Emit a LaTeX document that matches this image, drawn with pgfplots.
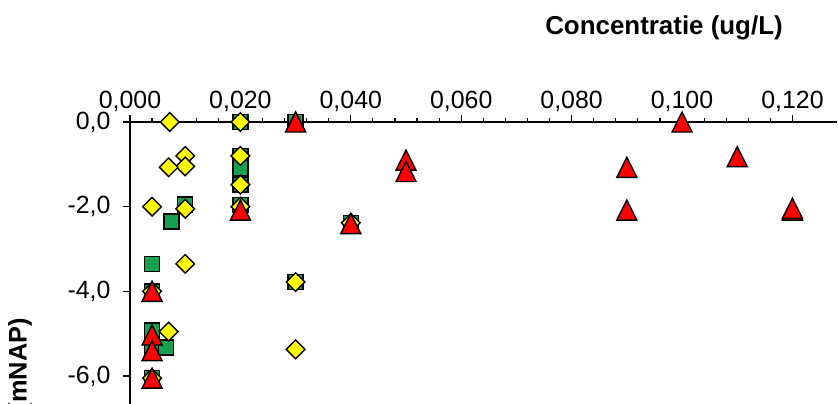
\documentclass[border=0pt]{standalone}
\usepackage{fontspec}
\setmainfont{Liberation Sans}
\usepackage{pgfplots}
\pgfplotsset{compat=1.18}
\definecolor{mgreen}{RGB}{22,160,80}
\definecolor{myellow}{RGB}{255,255,0}
\definecolor{mred}{RGB}{255,0,0}
\pgfdeclareplotmark{etri}{%
  \pgfpathmoveto{\pgfqpoint{0pt}{1\pgfplotmarksize}}%
  \pgfpathlineto{\pgfqpoint{-1\pgfplotmarksize}{-1\pgfplotmarksize}}%
  \pgfpathlineto{\pgfqpoint{1\pgfplotmarksize}{-1\pgfplotmarksize}}%
  \pgfpathclose
  \pgfusepathqfillstroke}
\pgfdeclareplotmark{ediam}{%
  \pgfpathmoveto{\pgfqpoint{0pt}{1\pgfplotmarksize}}%
  \pgfpathlineto{\pgfqpoint{-1\pgfplotmarksize}{0pt}}%
  \pgfpathlineto{\pgfqpoint{0pt}{-1\pgfplotmarksize}}%
  \pgfpathlineto{\pgfqpoint{1\pgfplotmarksize}{0pt}}%
  \pgfpathclose
  \pgfusepathqfillstroke}
\begin{document}
\begin{tikzpicture}
\useasboundingbox (0,0) rectangle (838bp,404bp);
\clip (0,0) rectangle (838bp,404bp);
\begin{axis}[
  at={(130bp,0bp)}, anchor=south west,
  scale only axis, width=706.6bp, height=282bp,
  xmin=0, xmax=0.128, ymin=-6.66, ymax=0,
  axis x line*=top, axis y line*=left,
  axis line style={line width=1.2bp, black},
  every tick/.style={black, line width=1.2bp},
  tick align=outside,
  major tick length=7bp, minor tick length=4bp,
  xtick={0,0.02,0.04,0.06,0.08,0.1,0.12},
  minor x tick num=4,
  ytick={0,-2,-4,-6},
  scaled x ticks=false, scaled y ticks=false,
  /pgf/number format/assume math mode=true,
  tick label style={font=\fontsize{25}{28}\selectfont, black},
  xticklabel style={/pgf/number format/.cd, fixed, fixed zerofill, precision=3, use comma},
  yticklabel style={xshift=-9bp, /pgf/number format/.cd, fixed, fixed zerofill, precision=1, use comma},
  clip=false,
  every axis plot/.append style={only marks, line width=1.4bp},
]
\addplot[mark=square*, mark size=7.5bp, mark options={fill=mgreen, draw=black}] coordinates {
 (0.004,-3.35) (0.004,-4.0) (0.004,-4.92) (0.004,-5.35) (0.0065,-5.33) (0.004,-6.05)
 (0.0075,-2.35) (0.010,-1.95) (0.020,0) (0.020,-0.8) (0.020,-1.08) (0.020,-1.48)
 (0.020,-1.96) (0.030,0) (0.030,-3.78) (0.040,-2.38)
};
\addplot[mark=ediam, mark size=9.3bp, mark options={fill=myellow, draw=black}] coordinates {
 (0.0072,0) (0.010,-0.8) (0.010,-1.05) (0.007,-1.07) (0.004,-2.0) (0.010,-2.05)
 (0.010,-3.35) (0.004,-4.0) (0.007,-4.95) (0.004,-6.05) (0.020,0) (0.020,-0.8)
 (0.020,-1.48) (0.020,-2.0) (0.030,-3.78) (0.030,-5.37) (0.040,-2.38)
};
\addplot[mark=etri, mark size=10bp, mark options={fill=mred, draw=black}] coordinates {
 (0.004,-4.0) (0.004,-5.03) (0.004,-5.4) (0.004,-6.05) (0.020,-2.08) (0.030,0)
 (0.040,-2.4) (0.050,-0.9) (0.050,-1.17) (0.090,-1.07) (0.090,-2.08) (0.100,0)
 (0.110,-0.82) (0.120,-2.08) (0.120,-2.04)
};
\end{axis}
\node[anchor=base, font=\bfseries\fontsize{26}{30}\selectfont] at (664bp,369bp) {Concentratie (ug/L)};
\node[rotate=90, anchor=east, inner sep=0pt, font=\bfseries\fontsize{25.5}{30}\selectfont] at (20bp,86bp) {Diepte (mNAP)};
\end{tikzpicture}
\end{document}
